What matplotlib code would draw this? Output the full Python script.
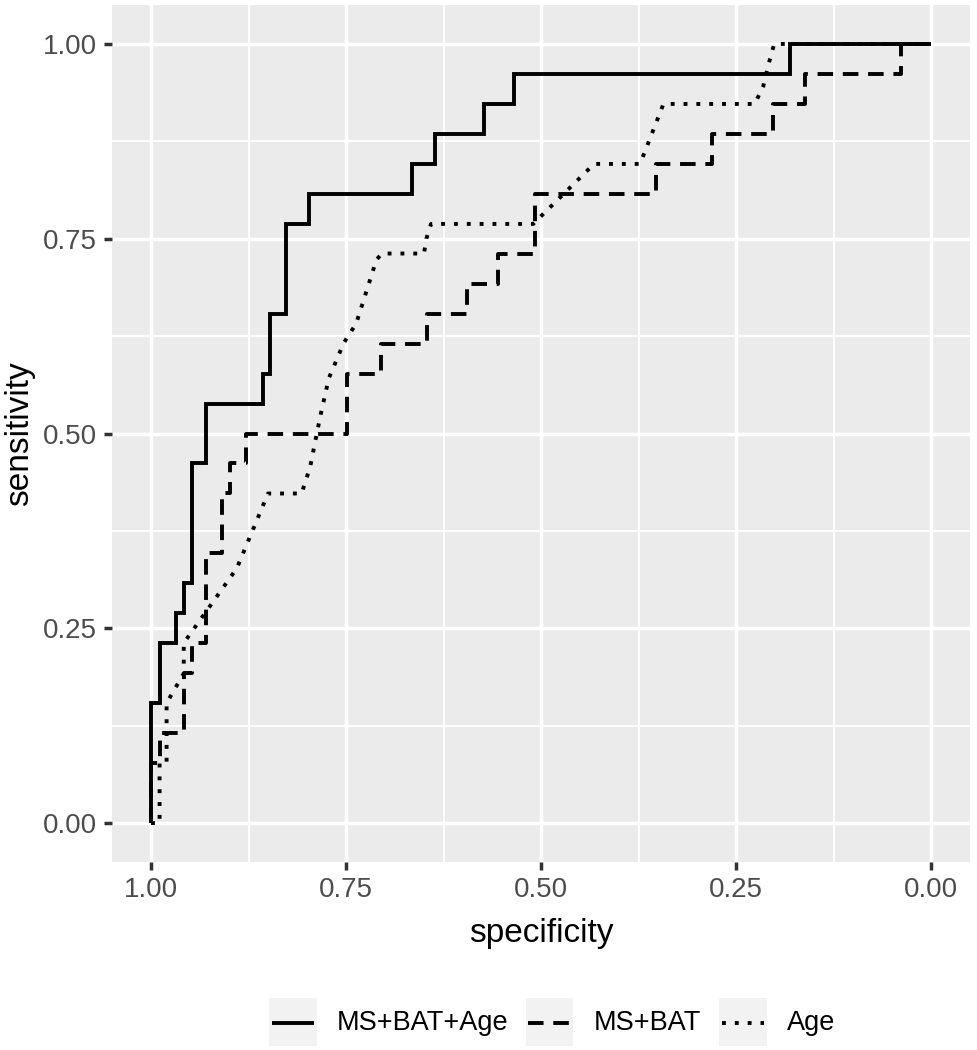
import matplotlib
matplotlib.use("Agg")
import matplotlib.pyplot as plt
from matplotlib.lines import Line2D
from matplotlib.patches import Rectangle

plt.rcParams['font.family'] = ['Liberation Sans', 'DejaVu Sans']

# ---- data: ROC curve vertices (specificity, sensitivity) ----
series_names = ["MS+BAT+Age", "MS+BAT", "Age"]

spec_ms_bat_age = [1.000, 1.000, 0.989, 0.989, 0.968, 0.968, 0.958, 0.958, 0.948, 0.948,
                   0.929, 0.929, 0.857, 0.857, 0.847, 0.847, 0.827, 0.827, 0.797, 0.797,
                   0.665, 0.665, 0.636, 0.636, 0.573, 0.573, 0.535, 0.535, 0.181, 0.181, 0.000]
sens_ms_bat_age = [0.000, 0.154, 0.154, 0.231, 0.231, 0.269, 0.269, 0.308, 0.308, 0.462,
                   0.462, 0.538, 0.538, 0.577, 0.577, 0.654, 0.654, 0.769, 0.769, 0.808,
                   0.808, 0.846, 0.846, 0.885, 0.885, 0.923, 0.923, 0.962, 0.962, 1.000, 1.000]

spec_ms_bat = [1.000, 1.000, 0.989, 0.989, 0.958, 0.958, 0.948, 0.948, 0.929, 0.929,
               0.909, 0.909, 0.899, 0.899, 0.878, 0.878, 0.749, 0.749, 0.705, 0.705,
               0.646, 0.646, 0.595, 0.595, 0.555, 0.555, 0.508, 0.508, 0.353, 0.353,
               0.281, 0.281, 0.202, 0.202, 0.161, 0.161, 0.038, 0.038, 0.000]
sens_ms_bat = [0.000, 0.077, 0.077, 0.115, 0.115, 0.192, 0.192, 0.231, 0.231, 0.346,
               0.346, 0.423, 0.423, 0.462, 0.462, 0.500, 0.500, 0.577, 0.577, 0.615,
               0.615, 0.654, 0.654, 0.692, 0.692, 0.731, 0.731, 0.808, 0.808, 0.846,
               0.846, 0.885, 0.885, 0.923, 0.923, 0.962, 0.962, 1.000, 1.000]

spec_age = [1.000, 0.989, 0.989, 0.980, 0.980, 0.958, 0.958, 0.890, 0.850, 0.807,
            0.796, 0.783, 0.772, 0.753, 0.737, 0.711, 0.704, 0.650, 0.647, 0.641,
            0.510, 0.432, 0.373, 0.343, 0.226, 0.215, 0.208, 0.201, 0.000]
sens_age = [0.000, 0.000, 0.077, 0.077, 0.154, 0.192, 0.231, 0.327, 0.423, 0.423,
            0.457, 0.522, 0.571, 0.616, 0.641, 0.723, 0.731, 0.731, 0.750, 0.769,
            0.769, 0.846, 0.846, 0.923, 0.923, 0.946, 0.975, 1.000, 1.000]

tick_values = [1.00, 0.75, 0.50, 0.25, 0.00]
tick_labels = ["1.00", "0.75", "0.50", "0.25", "0.00"]
minor_values = [0.875, 0.625, 0.375, 0.125]

# ---- figure ----
W, H = 977, 1050
fig = plt.figure(figsize=(W / 100, H / 100), dpi=100)
fig.patch.set_facecolor('white')

pl, pr, pt, pb = 112, 970, 5, 862
ax = fig.add_axes([pl / W, 1 - pb / H, (pr - pl) / W, (pb - pt) / H])
ax.set_facecolor('#EBEBEB')
for s in ax.spines.values():
    s.set_visible(False)

lw = 2.8
styles = ['-', (0, (4, 2.5)), (0, (1, 2.3))]
curves = [(spec_ms_bat_age, sens_ms_bat_age), (spec_ms_bat, sens_ms_bat), (spec_age, sens_age)]
for (xs, ys), ls in zip(curves, styles):
    ax.plot(xs, ys, color='black', lw=lw, linestyle=ls, solid_capstyle='butt',
            dash_capstyle='butt', solid_joinstyle='miter', zorder=3)

ax.set_xlim(1.05, -0.05)
ax.set_ylim(-0.05, 1.05)
ax.set_xticks(tick_values)
ax.set_xticklabels(tick_labels)
ax.set_yticks(tick_values)
ax.set_yticklabels(tick_labels)
ax.set_xticks(minor_values, minor=True)
ax.set_yticks(minor_values, minor=True)

ax.grid(which='major', color='white', lw=2.5, zorder=0)
ax.grid(which='minor', color='white', lw=1.3, zorder=0)
ax.set_axisbelow(True)

ax.tick_params(which='major', direction='out', length=5.8, width=2.5, color='#333333',
               labelsize=20, labelcolor='#4D4D4D')
ax.tick_params(axis='x', which='major', pad=5.0)
ax.tick_params(axis='y', which='major', pad=5.0)
ax.tick_params(which='minor', length=0)

ax.set_xlabel('specificity', fontsize=24, color='black')
ax.set_ylabel('sensitivity', fontsize=24, color='black')
ax.xaxis.set_label_coords(0.5, (pb - 918) / (pb - pt))
ax.yaxis.set_label_coords((35 - pl) / (pr - pl), 0.5)

# ---- legend (manual, ggplot style) ----
def fx(px):
    return px / W

def fy(py):
    return 1 - py / H

key_w, key_h = 47.4, 48
key_y_top, line_y = 998, 1023
key_left = [269.3, 525.5, 719.3]
text_left = [336.7, 593.3, 786.7]
for kx, tx, ls, name in zip(key_left, text_left, styles, series_names):
    fig.add_artist(Rectangle((fx(kx), fy(key_y_top + key_h)), key_w / W, key_h / H,
                             transform=fig.transFigure, facecolor='#F2F2F2',
                             edgecolor='none'))
    fig.add_artist(Line2D([fx(kx + 2.5), fx(kx + key_w - 2.5)], [fy(line_y), fy(line_y)],
                          transform=fig.transFigure, color='black', lw=lw, linestyle=ls,
                          solid_capstyle='butt', dash_capstyle='butt'))
    fig.text(fx(tx), fy(line_y), name, fontsize=19.5, color='black',
             ha='left', va='center')

fig.savefig('out.png', dpi=100, facecolor='white')
